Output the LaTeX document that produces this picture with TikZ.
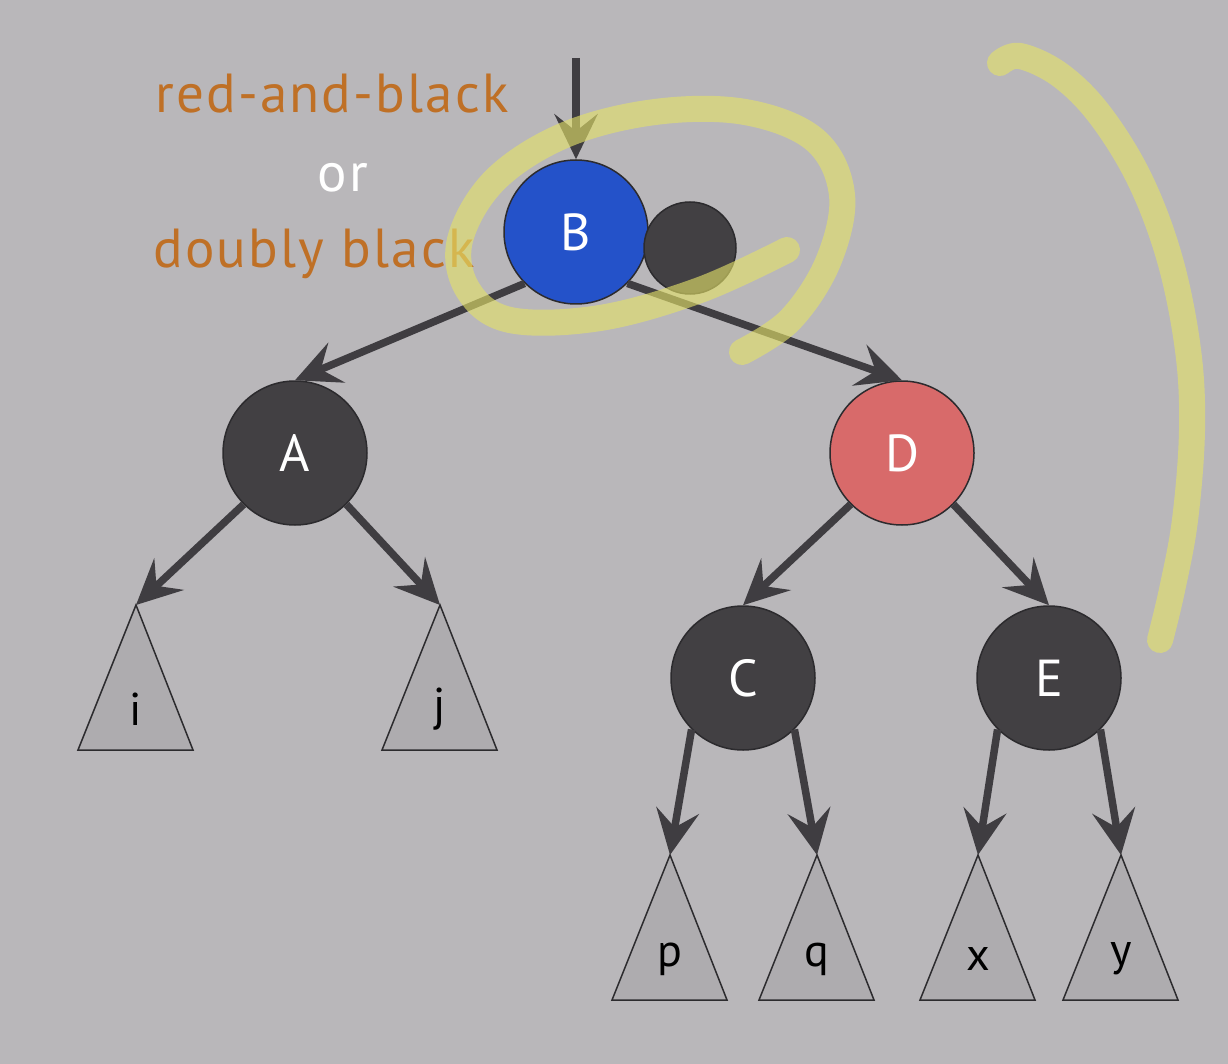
\documentclass[tikz,border=0pt]{standalone}
\usepackage{fontspec}
\setmainfont{PT Sans}
\newfontfamily\spacedfont[LetterSpace=4]{PT Sans}
\usetikzlibrary{arrows.meta}
\definecolor{bg}{HTML}{B9B7BA}
\definecolor{nodedark}{HTML}{424043}
\definecolor{nodeline}{HTML}{2C2B2E}
\definecolor{bluenode}{HTML}{2452C9}
\definecolor{rednode}{HTML}{D86A6A}
\definecolor{edgecol}{HTML}{3F3D41}
\definecolor{trifill}{HTML}{AEACAF}
\definecolor{orangetxt}{HTML}{BF7026}
\definecolor{hlyellow}{RGB}{228,226,105}
\begin{document}
\begin{tikzpicture}[x=1pt,y=-1pt,
  rbnode/.style={circle, draw=nodeline, line width=1.5pt, minimum size=144pt, inner sep=0pt,
    text=white, font=\fontsize{52}{52}\selectfont},
  blacknode/.style={rbnode, fill=nodedark},
  edge/.style={draw=edgecol, line width=7.5pt, -{Stealth[length=45pt,width=43pt,inset=17pt]}},
  tri/.style={fill=trifill, draw=nodeline, line width=1.5pt, line join=miter},
  trilabel/.style={font=\fontsize{46}{46}\selectfont, text=black, inner sep=0pt},
  lbl/.style={font=\spacedfont\fontsize{55}{55}\selectfont, anchor=base, inner sep=0pt},
  hl/.style={draw=hlyellow, line width=26pt, line cap=round, line join=round, opacity=0.62}]
\fill[bg] (0,0) rectangle (1228,1064);
\useasboundingbox (0,0) rectangle (1228,1064);

% labels
\node[lbl, text=orangetxt] (t1) at (332,113) {red-and-black};
\node[lbl, text=white] (t2) at (343,192) {or};
\node[lbl, text=orangetxt] (t3) at (314,268) {doubly black};

% nodes
\node[rbnode, fill=bluenode] (B) at (576,232) {B};
\node[circle, fill=nodedark, draw=nodeline, line width=1.5pt, minimum size=92pt, inner sep=0pt] (BB) at (690,248) {};
\node[blacknode] (A) at (295,453) {A};
\node[rbnode, fill=rednode] (D) at (902,453) {D};
\node[blacknode] (C) at (743,678) {C};
\node[blacknode] (E) at (1049,678) {E};

% subtrees
\foreach \n/\x/\y/\t in {ti/136/605/i, tj/440/605/j, tp/670/855/p, tq/817/855/q, tx/978/855/x, ty/1121/855/y}{
  \coordinate (\n) at (\x,\y);
  \filldraw[tri] (\n) -- ++(57,145) -- ++(-115,0) -- cycle;
  \node[trilabel] (lab\n) at (\x,\y+104) {\t};
}

% edges
\coordinate (top) at (576,58);
\draw[edge] (top) -- (B.north);
\draw[edge] (B.-135) -- (A.north);
\draw[edge] (B.-45) -- (D.north);
\draw[edge] (A.-135) -- (ti);
\draw[edge] (A.-45) -- (tj);
\draw[edge] (D.-135) -- (C.north);
\draw[edge] (D.-45) -- (E.north);
\draw[edge] (C.-135) -- (tp);
\draw[edge] (C.-45) -- (tq);
\draw[edge] (E.-135) -- (tx);
\draw[edge] (E.-45) -- (ty);

% highlighter strokes
\draw[hl] plot[smooth, tension=0.6] coordinates {(787,250) (700,290) (600,318) (510,320) (468,290) (460,240) (495,180) (565,135) (655,112) (745,112) (815,140) (842,195) (828,262) (790,320) (742,352)};
\draw[hl] plot[smooth, tension=0.6] coordinates {(1000,63) (1020,56) (1060,75) (1100,115) (1140,180) (1170,260) (1188,350) (1192,430) (1185,520) (1172,590) (1160,640)};
\end{tikzpicture}
\end{document}
